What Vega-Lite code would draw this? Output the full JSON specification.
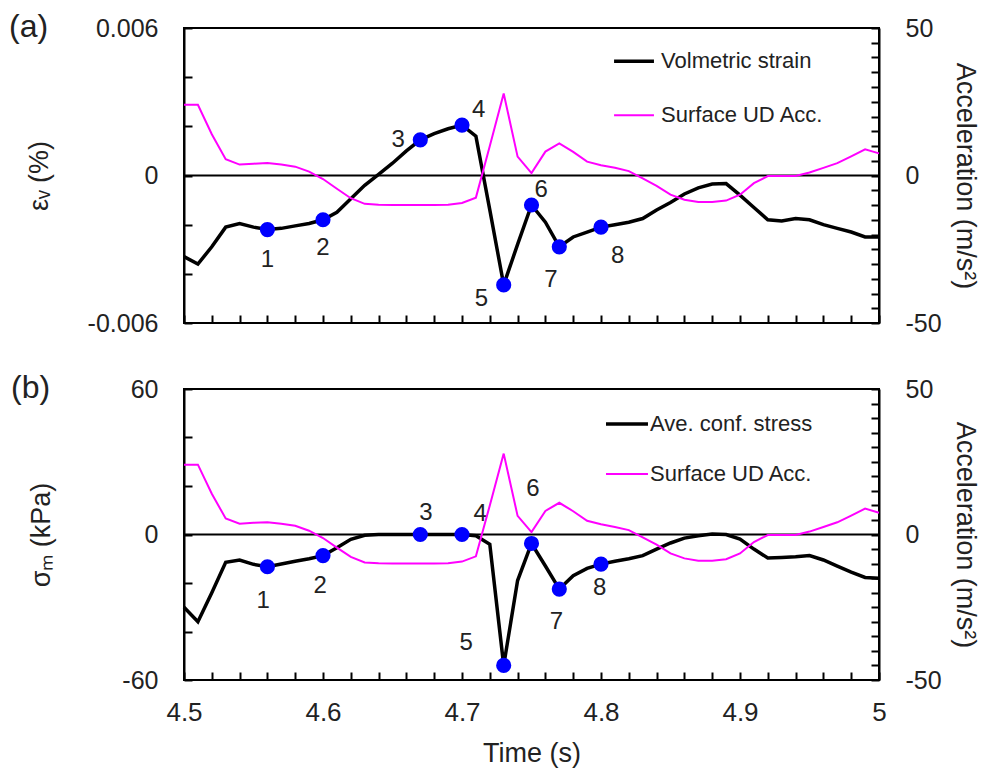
{
  "$schema": "https://vega.github.io/schema/vega-lite/v6.json",
  "background": "white",
  "padding": {"left": 8, "top": 10, "right": 5, "bottom": 5},
  "spacing": 34,
  "config": {
    "font": "Liberation Sans",
    "view": {"stroke": "black", "strokeWidth": 2},
    "axis": {"domainColor": "black", "domainWidth": 2, "ticks": true, "tickColor": "black", "tickWidth": 2, "tickSize": -8, "labelColor": "#222", "titleColor": "#222", "labelFontSize": 25, "titleFontSize": 27, "titleFontWeight": "normal", "grid": false, "labelPadding": 34, "labelOverlap": false, "labelFlush": false, "labelFont": "Liberation Sans", "titleFont": "Liberation Sans"},
    "title": {"fontSize": 32, "fontWeight": "normal", "color": "#222", "anchor": "start", "frame": "bounds"}
  },
  "datasets": {
    "strain": [
      {"t": 4.50, "v": -0.0033}, {"t": 4.51, "v": -0.0036}, {"t": 4.52, "v": -0.0029}, {"t": 4.53, "v": -0.0021},
      {"t": 4.54, "v": -0.00195}, {"t": 4.55, "v": -0.0021}, {"t": 4.56, "v": -0.0022}, {"t": 4.57, "v": -0.00215},
      {"t": 4.58, "v": -0.00205}, {"t": 4.59, "v": -0.00195}, {"t": 4.60, "v": -0.0018}, {"t": 4.61, "v": -0.0015},
      {"t": 4.62, "v": -0.00095}, {"t": 4.63, "v": -0.0004}, {"t": 4.64, "v": 0.00005}, {"t": 4.65, "v": 0.0005},
      {"t": 4.66, "v": 0.001}, {"t": 4.67, "v": 0.00145}, {"t": 4.68, "v": 0.0017}, {"t": 4.69, "v": 0.0019},
      {"t": 4.70, "v": 0.00205}, {"t": 4.71, "v": 0.0016}, {"t": 4.72, "v": -0.0014}, {"t": 4.73, "v": -0.00445},
      {"t": 4.74, "v": -0.0028}, {"t": 4.75, "v": -0.0012}, {"t": 4.76, "v": -0.0019}, {"t": 4.77, "v": -0.0029},
      {"t": 4.78, "v": -0.0025}, {"t": 4.79, "v": -0.0023}, {"t": 4.80, "v": -0.0021}, {"t": 4.81, "v": -0.002},
      {"t": 4.82, "v": -0.0019}, {"t": 4.83, "v": -0.00175}, {"t": 4.84, "v": -0.0014}, {"t": 4.85, "v": -0.0011},
      {"t": 4.86, "v": -0.00075}, {"t": 4.87, "v": -0.0005}, {"t": 4.88, "v": -0.00035}, {"t": 4.89, "v": -0.00033},
      {"t": 4.90, "v": -0.0008}, {"t": 4.91, "v": -0.0013}, {"t": 4.92, "v": -0.0018}, {"t": 4.93, "v": -0.00185},
      {"t": 4.94, "v": -0.00175}, {"t": 4.95, "v": -0.0018}, {"t": 4.96, "v": -0.002}, {"t": 4.97, "v": -0.00215},
      {"t": 4.98, "v": -0.0023}, {"t": 4.99, "v": -0.0025}, {"t": 5.00, "v": -0.0025}
    ],
    "stress": [
      {"t": 4.50, "v": -30}, {"t": 4.51, "v": -36}, {"t": 4.52, "v": -24}, {"t": 4.53, "v": -11.5},
      {"t": 4.54, "v": -10.5}, {"t": 4.55, "v": -12.3}, {"t": 4.56, "v": -13.3}, {"t": 4.57, "v": -12.2},
      {"t": 4.58, "v": -11}, {"t": 4.59, "v": -10}, {"t": 4.60, "v": -8.7}, {"t": 4.61, "v": -5.5},
      {"t": 4.62, "v": -2}, {"t": 4.63, "v": -0.3}, {"t": 4.64, "v": 0}, {"t": 4.65, "v": 0},
      {"t": 4.66, "v": 0}, {"t": 4.67, "v": 0}, {"t": 4.68, "v": 0}, {"t": 4.69, "v": 0},
      {"t": 4.70, "v": 0}, {"t": 4.71, "v": -0.5}, {"t": 4.72, "v": -4}, {"t": 4.73, "v": -54},
      {"t": 4.74, "v": -19}, {"t": 4.75, "v": -3.7}, {"t": 4.76, "v": -13}, {"t": 4.77, "v": -22.5},
      {"t": 4.78, "v": -17}, {"t": 4.79, "v": -14}, {"t": 4.80, "v": -12.2}, {"t": 4.81, "v": -11},
      {"t": 4.82, "v": -10}, {"t": 4.83, "v": -8.7}, {"t": 4.84, "v": -6}, {"t": 4.85, "v": -3.5},
      {"t": 4.86, "v": -1.5}, {"t": 4.87, "v": -0.5}, {"t": 4.88, "v": 0.2}, {"t": 4.89, "v": 0},
      {"t": 4.90, "v": -1.9}, {"t": 4.91, "v": -6}, {"t": 4.92, "v": -9.7}, {"t": 4.93, "v": -9.5},
      {"t": 4.94, "v": -9.2}, {"t": 4.95, "v": -8.7}, {"t": 4.96, "v": -10.5}, {"t": 4.97, "v": -13},
      {"t": 4.98, "v": -15.5}, {"t": 4.99, "v": -17.7}, {"t": 5.00, "v": -18}
    ],
    "acc": [
      {"t": 4.50, "a": 24}, {"t": 4.51, "a": 24}, {"t": 4.52, "a": 14}, {"t": 4.53, "a": 5.5},
      {"t": 4.54, "a": 3.7}, {"t": 4.55, "a": 4.0}, {"t": 4.56, "a": 4.2}, {"t": 4.57, "a": 3.7},
      {"t": 4.58, "a": 3.0}, {"t": 4.59, "a": 1.3}, {"t": 4.60, "a": -1.2}, {"t": 4.61, "a": -4.5},
      {"t": 4.62, "a": -7.7}, {"t": 4.63, "a": -9.6}, {"t": 4.64, "a": -9.9}, {"t": 4.65, "a": -10},
      {"t": 4.66, "a": -10}, {"t": 4.67, "a": -10}, {"t": 4.68, "a": -10}, {"t": 4.69, "a": -9.9},
      {"t": 4.70, "a": -9.3}, {"t": 4.71, "a": -7.5}, {"t": 4.72, "a": 10}, {"t": 4.73, "a": 27.8},
      {"t": 4.74, "a": 6.4}, {"t": 4.75, "a": 0.8}, {"t": 4.76, "a": 8.1}, {"t": 4.77, "a": 10.9},
      {"t": 4.78, "a": 8}, {"t": 4.79, "a": 4.7}, {"t": 4.80, "a": 3.5}, {"t": 4.81, "a": 2.6},
      {"t": 4.82, "a": 1.5}, {"t": 4.83, "a": -1.0}, {"t": 4.84, "a": -3.5}, {"t": 4.85, "a": -6.5},
      {"t": 4.86, "a": -8.2}, {"t": 4.87, "a": -9.0}, {"t": 4.88, "a": -9.0}, {"t": 4.89, "a": -8.5},
      {"t": 4.90, "a": -6.5}, {"t": 4.91, "a": -2.6}, {"t": 4.92, "a": -0.2}, {"t": 4.93, "a": -0.2},
      {"t": 4.94, "a": -0.2}, {"t": 4.95, "a": 1.0}, {"t": 4.96, "a": 2.6}, {"t": 4.97, "a": 4.2},
      {"t": 4.98, "a": 6.5}, {"t": 4.99, "a": 8.9}, {"t": 5.00, "a": 7.5}
    ],
    "ptsA": [
      {"n": "1", "t": 4.56, "v": -0.0022, "lt": 4.56, "lv": -0.00344},
      {"n": "2", "t": 4.60, "v": -0.0018, "lt": 4.60, "lv": -0.00296},
      {"n": "3", "t": 4.67, "v": 0.00145, "lt": 4.654, "lv": 0.00144},
      {"n": "4", "t": 4.70, "v": 0.00205, "lt": 4.712, "lv": 0.00265},
      {"n": "5", "t": 4.73, "v": -0.00445, "lt": 4.714, "lv": -0.00501},
      {"n": "6", "t": 4.75, "v": -0.0012, "lt": 4.757, "lv": -0.0006},
      {"n": "7", "t": 4.77, "v": -0.0029, "lt": 4.764, "lv": -0.00426},
      {"n": "8", "t": 4.80, "v": -0.0021, "lt": 4.812, "lv": -0.00328}
    ],
    "ptsB": [
      {"n": "1", "t": 4.56, "v": -13.3, "lt": 4.557, "lv": -27.3},
      {"n": "2", "t": 4.60, "v": -8.7, "lt": 4.598, "lv": -21.1},
      {"n": "3", "t": 4.67, "v": 0, "lt": 4.674, "lv": 9},
      {"n": "4", "t": 4.70, "v": 0, "lt": 4.713, "lv": 8.6},
      {"n": "5", "t": 4.73, "v": -54, "lt": 4.703, "lv": -44.6},
      {"n": "6", "t": 4.75, "v": -3.7, "lt": 4.751, "lv": 18.9},
      {"n": "7", "t": 4.77, "v": -22.5, "lt": 4.768, "lv": -36},
      {"n": "8", "t": 4.80, "v": -12.2, "lt": 4.799, "lv": -22}
    ],
    "legA": [
      {"s": "main", "name": "Volmetric strain", "t": 4.8094, "t2": 4.8381, "tx": 4.8432, "v": 0.00465},
      {"s": "acc", "name": "Surface UD Acc.", "t": 4.8094, "t2": 4.8381, "tx": 4.8432, "v": 0.00245}
    ],
    "legB": [
      {"s": "main", "name": "Ave. conf. stress", "t": 4.8036, "t2": 4.8338, "tx": 4.8353, "v": 45.6},
      {"s": "acc", "name": "Surface UD Acc.", "t": 4.8036, "t2": 4.8338, "tx": 4.8353, "v": 24.9}
    ]
  },
  "vconcat": [
    {
      "width": 695,
      "height": 295,
      "title": {"text": "(a)", "dx": -16, "dy": 28, "offset": 0},
      "layer": [
        {
          "layer": [
            {
              "data": {"name": "strain"},
              "mark": {"type": "line", "color": "black", "strokeWidth": 3.5},
              "encoding": {
                "x": {"field": "t", "type": "quantitative", "scale": {"domain": [4.5, 5], "nice": false, "zero": false},
                  "axis": {"values": [4.5,4.52,4.54,4.56,4.58,4.6,4.62,4.64,4.66,4.68,4.7,4.72,4.74,4.76,4.78,4.8,4.82,4.84,4.86,4.88,4.9,4.92,4.94,4.96,4.98,5], "labels": false, "domain": false, "ticks": true, "tickSize": 8, "offset": -8, "labelOverlap": false, "labelFlush": false, "title": null}},
                "y": {"field": "v", "type": "quantitative", "scale": {"domain": [-0.006, 0.006], "nice": false, "zero": false},
                  "axis": {"values": [-0.006,-0.004,-0.002,0,0.002,0.004,0.006], "title": "εᵥ (%)", "titleX": -145, "titleBaseline": "middle",
                    "labelExpr": "datum.value > 0.005 ? '0.006' : datum.value < -0.005 ? '-0.006' : abs(datum.value) < 1e-9 ? '0' : ''"}}
              }
            },
            {
              "data": {"values": [{"v": 0}]},
              "mark": {"type": "rule", "color": "black", "strokeWidth": 2},
              "encoding": {"y": {"field": "v", "type": "quantitative"}}
            },
            {
              "data": {"name": "ptsA"},
              "mark": {"type": "circle", "color": "#0000FF", "opacity": 1, "size": 230},
              "encoding": {
                "x": {"field": "t", "type": "quantitative",
                  "axis": {"values": [4.5,4.52,4.54,4.56,4.58,4.6,4.62,4.64,4.66,4.68,4.7,4.72,4.74,4.76,4.78,4.8,4.82,4.84,4.86,4.88,4.9,4.92,4.94,4.96,4.98,5], "labels": false, "domain": false, "ticks": true, "tickSize": 8, "offset": -8, "labelOverlap": false, "labelFlush": false, "title": null}},
                "y": {"field": "v", "type": "quantitative"}
              }
            },
            {
              "data": {"name": "ptsA"},
              "mark": {"type": "text", "fontSize": 24, "color": "#222", "align": "center", "baseline": "middle"},
              "encoding": {
                "x": {"field": "lt", "type": "quantitative",
                  "axis": {"values": [4.5,4.52,4.54,4.56,4.58,4.6,4.62,4.64,4.66,4.68,4.7,4.72,4.74,4.76,4.78,4.8,4.82,4.84,4.86,4.88,4.9,4.92,4.94,4.96,4.98,5], "labels": false, "domain": false, "ticks": true, "tickSize": 8, "offset": -8, "labelOverlap": false, "labelFlush": false, "title": null}},
                "y": {"field": "lv", "type": "quantitative"},
                "text": {"field": "n"}
              }
            },
            {
              "data": {"name": "legA"},
              "transform": [{"filter": "datum.s == 'main'"}],
              "mark": {"type": "rule", "color": "black", "strokeWidth": 3.5},
              "encoding": {
                "x": {"field": "t", "type": "quantitative",
                  "axis": {"values": [4.5,4.52,4.54,4.56,4.58,4.6,4.62,4.64,4.66,4.68,4.7,4.72,4.74,4.76,4.78,4.8,4.82,4.84,4.86,4.88,4.9,4.92,4.94,4.96,4.98,5], "labels": false, "domain": false, "ticks": true, "tickSize": 8, "offset": -8, "labelOverlap": false, "labelFlush": false, "title": null}},
                "x2": {"field": "t2"},
                "y": {"field": "v", "type": "quantitative"}
              }
            },
            {
              "data": {"name": "legA"},
              "transform": [{"filter": "datum.s == 'acc'"}],
              "mark": {"type": "rule", "color": "#FF00FF", "strokeWidth": 2},
              "encoding": {
                "x": {"field": "t", "type": "quantitative",
                  "axis": {"values": [4.5,4.52,4.54,4.56,4.58,4.6,4.62,4.64,4.66,4.68,4.7,4.72,4.74,4.76,4.78,4.8,4.82,4.84,4.86,4.88,4.9,4.92,4.94,4.96,4.98,5], "labels": false, "domain": false, "ticks": true, "tickSize": 8, "offset": -8, "labelOverlap": false, "labelFlush": false, "title": null}},
                "x2": {"field": "t2"},
                "y": {"field": "v", "type": "quantitative"}
              }
            },
            {
              "data": {"name": "legA"},
              "mark": {"type": "text", "fontSize": 22, "color": "#222", "align": "left", "baseline": "middle"},
              "encoding": {
                "x": {"field": "tx", "type": "quantitative",
                  "axis": {"values": [4.5,4.52,4.54,4.56,4.58,4.6,4.62,4.64,4.66,4.68,4.7,4.72,4.74,4.76,4.78,4.8,4.82,4.84,4.86,4.88,4.9,4.92,4.94,4.96,4.98,5], "labels": false, "domain": false, "ticks": true, "tickSize": 8, "offset": -8, "labelOverlap": false, "labelFlush": false, "title": null}},
                "y": {"field": "v", "type": "quantitative"},
                "text": {"field": "name"}
              }
            }
          ]
        },
        {
          "data": {"name": "acc"},
          "mark": {"type": "line", "color": "#FF00FF", "strokeWidth": 2},
          "encoding": {
            "x": {"field": "t", "type": "quantitative",
              "axis": {"values": [4.5,4.52,4.54,4.56,4.58,4.6,4.62,4.64,4.66,4.68,4.7,4.72,4.74,4.76,4.78,4.8,4.82,4.84,4.86,4.88,4.9,4.92,4.94,4.96,4.98,5], "labels": false, "domain": false, "ticks": true, "tickSize": 8, "offset": -8, "labelOverlap": false, "labelFlush": false, "title": null}},
            "y": {"field": "a", "type": "quantitative", "scale": {"domain": [-50, 50], "nice": false, "zero": false},
              "axis": {"orient": "right", "values": [-50,-45,-40,-35,-30,-25,-20,-15,-10,-5,0,5,10,15,20,25,30,35,40,45,50], "title": "Acceleration (m/s²)", "titleX": 85, "titleBaseline": "middle",
                "labelExpr": "datum.value == 50 ? '50' : datum.value == -50 ? '-50' : datum.value == 0 ? '0' : ''"}}
          }
        }
      ],
      "resolve": {"scale": {"y": "independent"}}
    },
    {
      "width": 695,
      "height": 291,
      "title": {"text": "(b)", "dx": -16, "dy": 28, "offset": 0},
      "layer": [
        {
          "layer": [
            {
              "data": {"name": "stress"},
              "mark": {"type": "line", "color": "black", "strokeWidth": 3.5},
              "encoding": {
                "x": {"field": "t", "type": "quantitative", "scale": {"domain": [4.5, 5], "nice": false, "zero": false},
                  "axis": {"values": [4.5,4.52,4.54,4.56,4.58,4.6,4.62,4.64,4.66,4.68,4.7,4.72,4.74,4.76,4.78,4.8,4.82,4.84,4.86,4.88,4.9,4.92,4.94,4.96,4.98,5], "format": "~g", "domain": false, "ticks": true, "tickSize": 8, "offset": -8, "labelOverlap": false, "labelFlush": false, "labelFontSize": 26, "title": "Time (s)", "labelPadding": 19, "titleY": 81, "titleBaseline": "middle", "labelExpr": "abs(datum.value * 10 - round(datum.value * 10)) < 0.001 ? datum.label : ''"}},
                "y": {"field": "v", "type": "quantitative", "scale": {"domain": [-60, 60], "nice": false, "zero": false},
                  "axis": {"values": [-60,-50,-40,-30,-20,-10,0,10,20,30,40,50,60], "title": "σₘ (kPa)", "titleX": -143, "titleBaseline": "middle",
                    "labelExpr": "datum.value == 60 ? '60' : datum.value == -60 ? '-60' : datum.value == 0 ? '0' : ''"}}
              }
            },
            {
              "data": {"values": [{"v": 0}]},
              "mark": {"type": "rule", "color": "black", "strokeWidth": 2},
              "encoding": {"y": {"field": "v", "type": "quantitative"}}
            },
            {
              "data": {"name": "ptsB"},
              "mark": {"type": "circle", "color": "#0000FF", "opacity": 1, "size": 230},
              "encoding": {
                "x": {"field": "t", "type": "quantitative",
                  "axis": {"values": [4.5,4.52,4.54,4.56,4.58,4.6,4.62,4.64,4.66,4.68,4.7,4.72,4.74,4.76,4.78,4.8,4.82,4.84,4.86,4.88,4.9,4.92,4.94,4.96,4.98,5], "format": "~g", "domain": false, "ticks": true, "tickSize": 8, "offset": -8, "labelOverlap": false, "labelFlush": false, "labelFontSize": 26, "title": "Time (s)", "labelPadding": 19, "titleY": 81, "titleBaseline": "middle", "labelExpr": "abs(datum.value * 10 - round(datum.value * 10)) < 0.001 ? datum.label : ''"}},
                "y": {"field": "v", "type": "quantitative"}
              }
            },
            {
              "data": {"name": "ptsB"},
              "mark": {"type": "text", "fontSize": 24, "color": "#222", "align": "center", "baseline": "middle"},
              "encoding": {
                "x": {"field": "lt", "type": "quantitative",
                  "axis": {"values": [4.5,4.52,4.54,4.56,4.58,4.6,4.62,4.64,4.66,4.68,4.7,4.72,4.74,4.76,4.78,4.8,4.82,4.84,4.86,4.88,4.9,4.92,4.94,4.96,4.98,5], "format": "~g", "domain": false, "ticks": true, "tickSize": 8, "offset": -8, "labelOverlap": false, "labelFlush": false, "labelFontSize": 26, "title": "Time (s)", "labelPadding": 19, "titleY": 81, "titleBaseline": "middle", "labelExpr": "abs(datum.value * 10 - round(datum.value * 10)) < 0.001 ? datum.label : ''"}},
                "y": {"field": "lv", "type": "quantitative"},
                "text": {"field": "n"}
              }
            },
            {
              "data": {"name": "legB"},
              "transform": [{"filter": "datum.s == 'main'"}],
              "mark": {"type": "rule", "color": "black", "strokeWidth": 3.5},
              "encoding": {
                "x": {"field": "t", "type": "quantitative",
                  "axis": {"values": [4.5,4.52,4.54,4.56,4.58,4.6,4.62,4.64,4.66,4.68,4.7,4.72,4.74,4.76,4.78,4.8,4.82,4.84,4.86,4.88,4.9,4.92,4.94,4.96,4.98,5], "format": "~g", "domain": false, "ticks": true, "tickSize": 8, "offset": -8, "labelOverlap": false, "labelFlush": false, "labelFontSize": 26, "title": "Time (s)", "labelPadding": 19, "titleY": 81, "titleBaseline": "middle", "labelExpr": "abs(datum.value * 10 - round(datum.value * 10)) < 0.001 ? datum.label : ''"}},
                "x2": {"field": "t2"},
                "y": {"field": "v", "type": "quantitative"}
              }
            },
            {
              "data": {"name": "legB"},
              "transform": [{"filter": "datum.s == 'acc'"}],
              "mark": {"type": "rule", "color": "#FF00FF", "strokeWidth": 2},
              "encoding": {
                "x": {"field": "t", "type": "quantitative",
                  "axis": {"values": [4.5,4.52,4.54,4.56,4.58,4.6,4.62,4.64,4.66,4.68,4.7,4.72,4.74,4.76,4.78,4.8,4.82,4.84,4.86,4.88,4.9,4.92,4.94,4.96,4.98,5], "format": "~g", "domain": false, "ticks": true, "tickSize": 8, "offset": -8, "labelOverlap": false, "labelFlush": false, "labelFontSize": 26, "title": "Time (s)", "labelPadding": 19, "titleY": 81, "titleBaseline": "middle", "labelExpr": "abs(datum.value * 10 - round(datum.value * 10)) < 0.001 ? datum.label : ''"}},
                "x2": {"field": "t2"},
                "y": {"field": "v", "type": "quantitative"}
              }
            },
            {
              "data": {"name": "legB"},
              "mark": {"type": "text", "fontSize": 22, "color": "#222", "align": "left", "baseline": "middle"},
              "encoding": {
                "x": {"field": "tx", "type": "quantitative",
                  "axis": {"values": [4.5,4.52,4.54,4.56,4.58,4.6,4.62,4.64,4.66,4.68,4.7,4.72,4.74,4.76,4.78,4.8,4.82,4.84,4.86,4.88,4.9,4.92,4.94,4.96,4.98,5], "format": "~g", "domain": false, "ticks": true, "tickSize": 8, "offset": -8, "labelOverlap": false, "labelFlush": false, "labelFontSize": 26, "title": "Time (s)", "labelPadding": 19, "titleY": 81, "titleBaseline": "middle", "labelExpr": "abs(datum.value * 10 - round(datum.value * 10)) < 0.001 ? datum.label : ''"}},
                "y": {"field": "v", "type": "quantitative"},
                "text": {"field": "name"}
              }
            }
          ]
        },
        {
          "data": {"name": "acc"},
          "mark": {"type": "line", "color": "#FF00FF", "strokeWidth": 2},
          "encoding": {
            "x": {"field": "t", "type": "quantitative",
              "axis": {"values": [4.5,4.52,4.54,4.56,4.58,4.6,4.62,4.64,4.66,4.68,4.7,4.72,4.74,4.76,4.78,4.8,4.82,4.84,4.86,4.88,4.9,4.92,4.94,4.96,4.98,5], "format": "~g", "domain": false, "ticks": true, "tickSize": 8, "offset": -8, "labelOverlap": false, "labelFlush": false, "labelFontSize": 26, "title": "Time (s)", "labelPadding": 19, "titleY": 81, "titleBaseline": "middle", "labelExpr": "abs(datum.value * 10 - round(datum.value * 10)) < 0.001 ? datum.label : ''"}},
            "y": {"field": "a", "type": "quantitative", "scale": {"domain": [-50, 50], "nice": false, "zero": false},
              "axis": {"orient": "right", "values": [-50,-45,-40,-35,-30,-25,-20,-15,-10,-5,0,5,10,15,20,25,30,35,40,45,50], "title": "Acceleration (m/s²)", "titleX": 85, "titleBaseline": "middle",
                "labelExpr": "datum.value == 50 ? '50' : datum.value == -50 ? '-50' : datum.value == 0 ? '0' : ''"}}
          }
        }
      ],
      "resolve": {"scale": {"y": "independent"}}
    }
  ]
}
